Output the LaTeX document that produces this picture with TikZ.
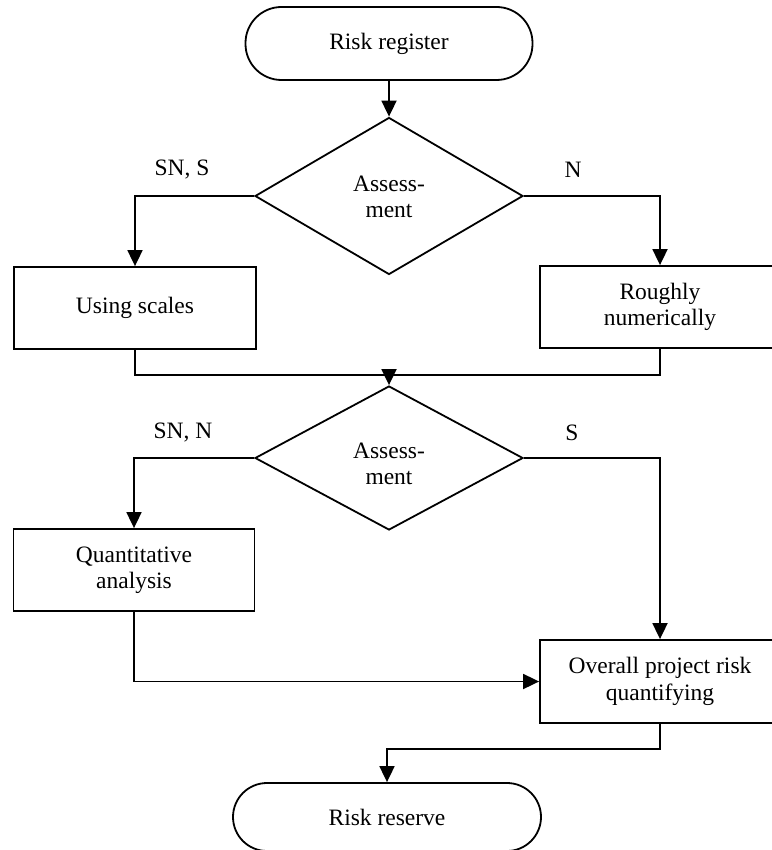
\documentclass[tikz,border=0pt]{standalone}
\usepackage{fontspec}
\setmainfont{Liberation Serif}
\usetikzlibrary{arrows.meta,shapes.geometric}
\begin{document}
\begin{tikzpicture}[x=1pt,y=-1pt,
  every node/.style={font=\fontsize{23.5}{26.5}\selectfont},
  line/.style={line width=1.8pt,black},
  arr/.style={line, -{Triangle[length=16pt,width=15pt]}},
  procbox/.style={draw, line width=1.8pt, rectangle, inner sep=0pt, align=center},
  termbox/.style={draw, line width=1.8pt, rectangle, inner sep=0pt, align=center},
  decbox/.style={draw, line width=1.8pt, diamond, inner sep=0pt, minimum width=268pt},
  lbl/.style={inner sep=0pt, align=center}
]
\useasboundingbox (0,0) rectangle (771,850);

% terminals
\node[termbox, rounded corners=36pt, minimum width=287pt, minimum height=73pt] (start) at (389,43.5) {Risk register};
\node[termbox, rounded corners=34pt, minimum width=308pt, minimum height=68pt] (stop) at (387,817) {Risk reserve};

% decisions
\node[decbox, minimum height=157pt] (d1) at (389,196) {};
\node[lbl] (d1t) at (389,197) {Assess-\\ment};
\node[decbox, minimum height=144pt] (d2) at (389,458) {};
\node[lbl] (d2t) at (389,464) {Assess-\\ment};

% process boxes
\node[procbox, minimum width=242pt, minimum height=82pt] (b1) at (135,308) {Using scales};
\node[procbox, minimum width=240pt, minimum height=82pt] (b2) at (660,307) {Roughly\\numerically};
\node[procbox, minimum width=241pt, minimum height=82pt] (b3) at (134,570) {Quantitative\\analysis};
\node[procbox, minimum width=240pt, minimum height=83pt] (b4) at (660,681.5) {Overall project risk\\quantifying};

% branch labels
\node[lbl] (l1) at (182,170) {SN, S};
\node[lbl] (l2) at (573,170) {N};
\node[lbl] (l3) at (183,433) {SN, N};
\node[lbl] (l4) at (572,433) {S};

% connectors
\coordinate (j1) at (389,375);
\draw[arr] (start) -- (d1);
\draw[arr] (d1.west) -| (b1.north);
\draw[arr] (d1.east) -| (b2.north);
\draw[line] (b1.south) |- (j1);
\draw[line] (b2.south) |- (j1);
\draw[arr] (j1) -- (d2.north);
\draw[arr] (d2.west) -| (b3.north);
\draw[arr] (d2.east) -| (b4.north);
\draw[arr] (b3.south) |- (b4.west);
\draw[arr] (b4.south) -- ++(0,25) -| (stop.north);
\end{tikzpicture}
\end{document}
